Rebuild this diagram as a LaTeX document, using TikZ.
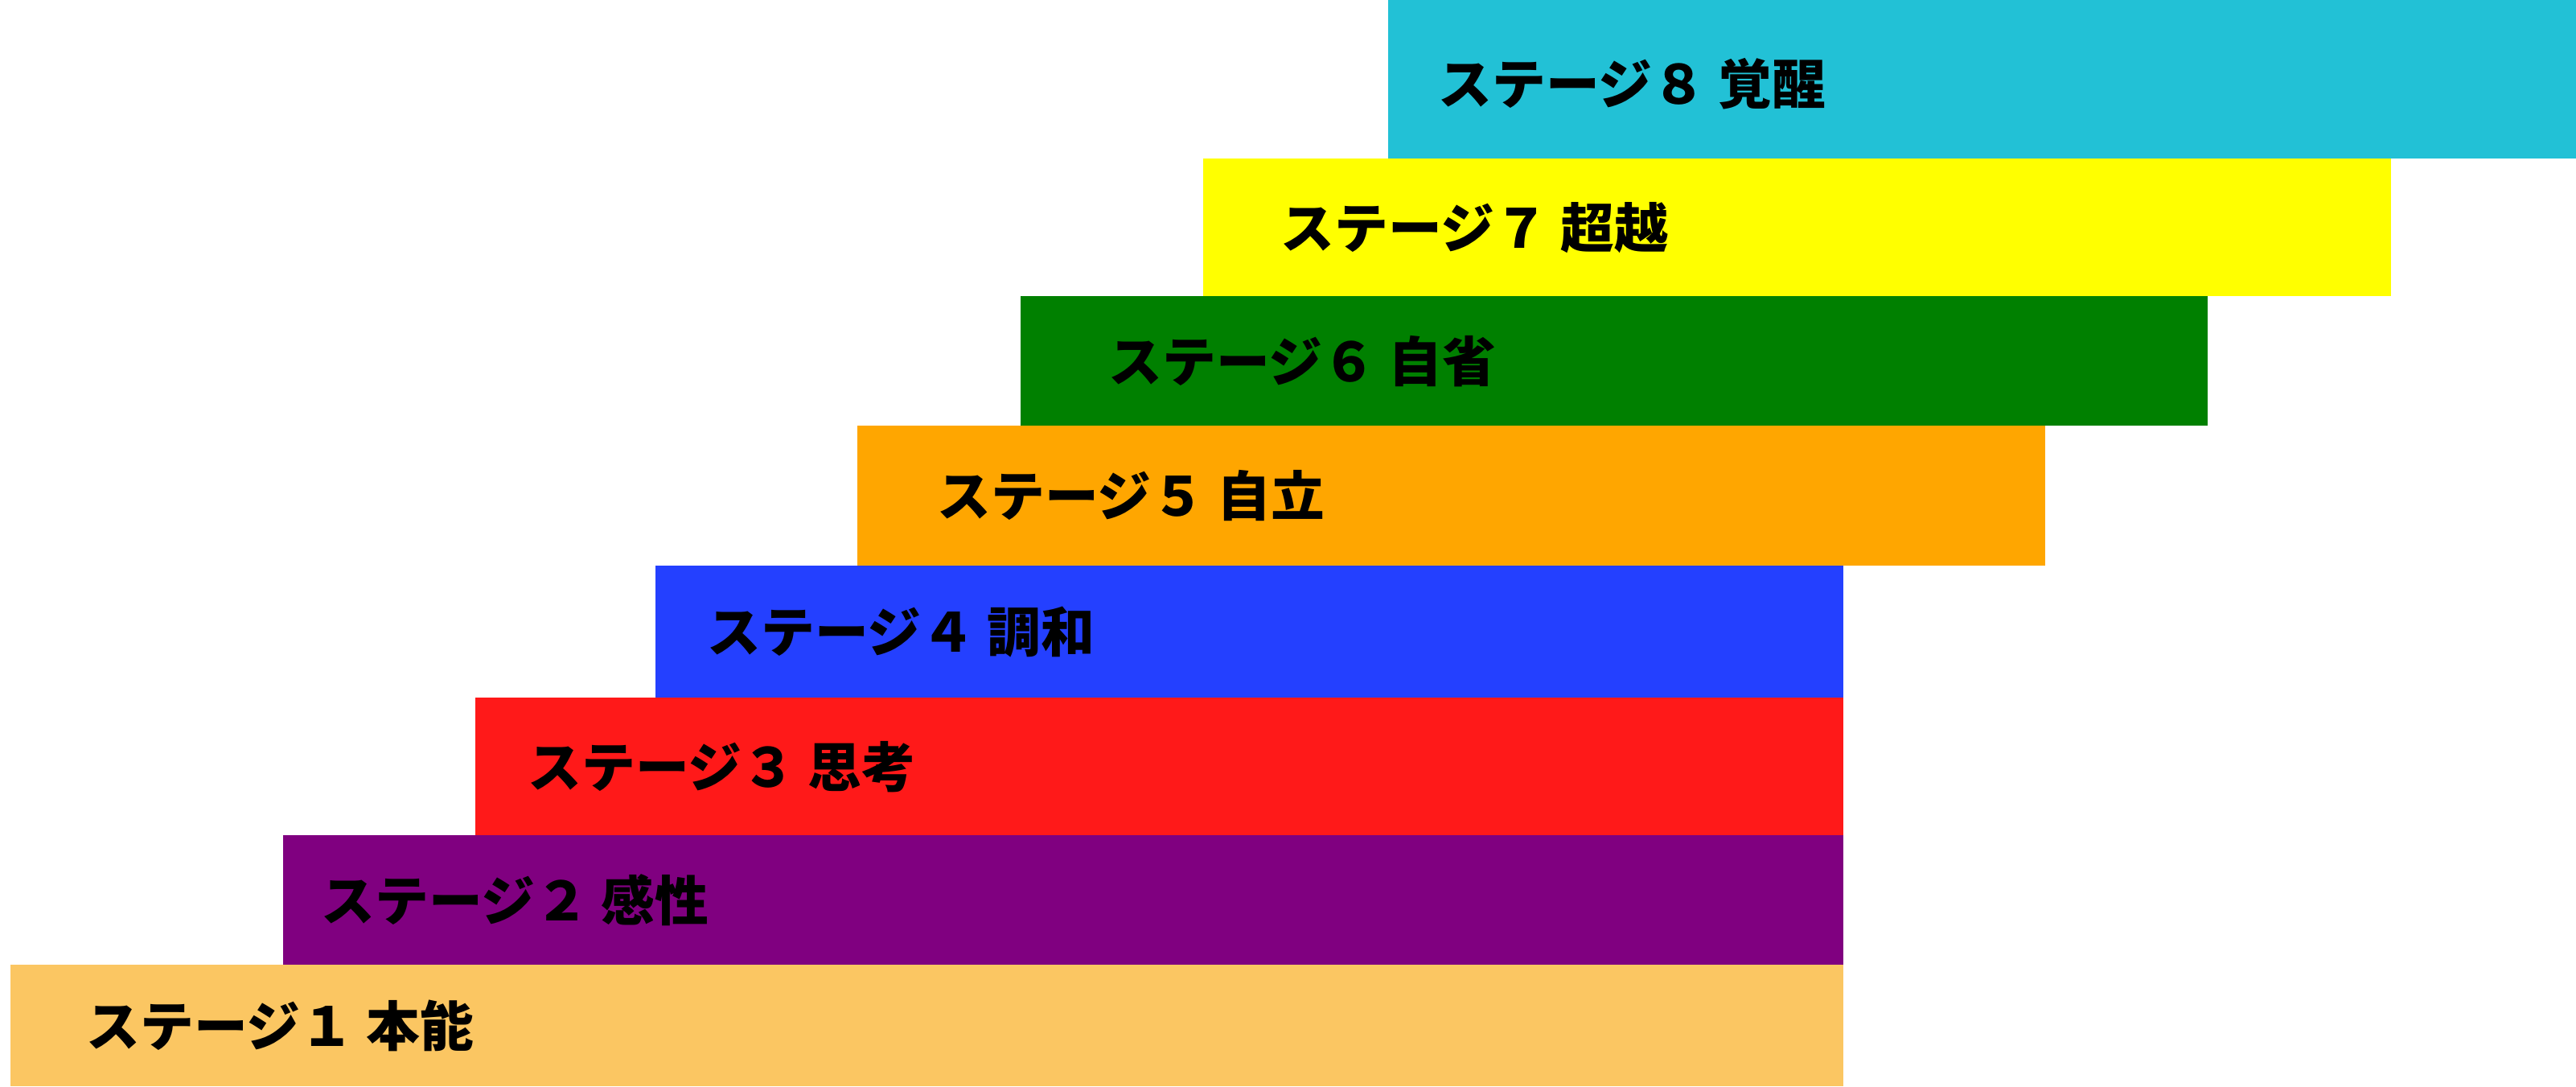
\documentclass[tikz,border=0pt]{standalone}
\usepackage{fontspec}
\newfontfamily\jpfont{Noto Sans CJK JP}
\usepackage{tikz}
\usetikzlibrary{positioning}
\definecolor{stcyan}{RGB}{34,193,214}
\definecolor{styellow}{RGB}{255,255,0}
\definecolor{stgreen}{RGB}{0,128,0}
\definecolor{storange}{RGB}{255,166,0}
\definecolor{stblue}{RGB}{36,64,255}
\definecolor{stred}{RGB}{255,25,25}
\definecolor{stpurple}{RGB}{128,0,128}
\definecolor{stsand}{RGB}{251,198,98}

\begin{document}
\begin{tikzpicture}[
  stagebar/.style={rectangle, inner sep=0pt, anchor=south west},
  stagelabel/.style={inner sep=0pt, font=\jpfont\bfseries\fontsize{19pt}{23pt}\selectfont}
 ]
 \useasboundingbox (0,0) rectangle (32.03,13.51);
 \node[stagebar, fill=stsand,   minimum width=22.79cm, minimum height=1.51cm] (s1) at (0.12,0) {};
 \node[stagebar, fill=stpurple, minimum width=19.40cm, minimum height=1.61cm] (s2) at (3.51,1.51) {};
 \node[stagebar, fill=stred,    minimum width=17.01cm, minimum height=1.71cm] (s3) at (5.90,3.12) {};
 \node[stagebar, fill=stblue,   minimum width=14.77cm, minimum height=1.64cm] (s4) at (8.14,4.83) {};
 \node[stagebar, fill=storange, minimum width=14.77cm, minimum height=1.74cm] (s5) at (10.65,6.47) {};
 \node[stagebar, fill=stgreen,  minimum width=14.76cm, minimum height=1.61cm] (s6) at (12.68,8.21) {};
 \node[stagebar, fill=styellow, minimum width=14.77cm, minimum height=1.71cm] (s7) at (14.95,9.82) {};
 \node[stagebar, fill=stcyan,   minimum width=14.78cm, minimum height=1.98cm] (s8) at (17.25,11.53) {};

 \node[stagelabel, right=0.95cm of s1.west] (l1) {ステージ１ 本能};
 \node[stagelabel, right=0.48cm of s2.west] (l2) {ステージ２ 感性};
 \node[stagelabel, right=0.66cm of s3.west] (l3) {ステージ３ 思考};
 \node[stagelabel, right=0.65cm of s4.west] (l4) {ステージ４ 調和};
 \node[stagelabel, right=1.00cm of s5.west] (l5) {ステージ５ 自立};
 \node[stagelabel, right=1.10cm of s6.west] (l6) {ステージ６ 自省};
 \node[stagelabel, right=0.97cm of s7.west] (l7) {ステージ７ 超越};
 \node[stagelabel, right=0.63cm of s8.west, yshift=-0.06cm] (l8) {ステージ８ 覚醒};
\end{tikzpicture}
\end{document}
